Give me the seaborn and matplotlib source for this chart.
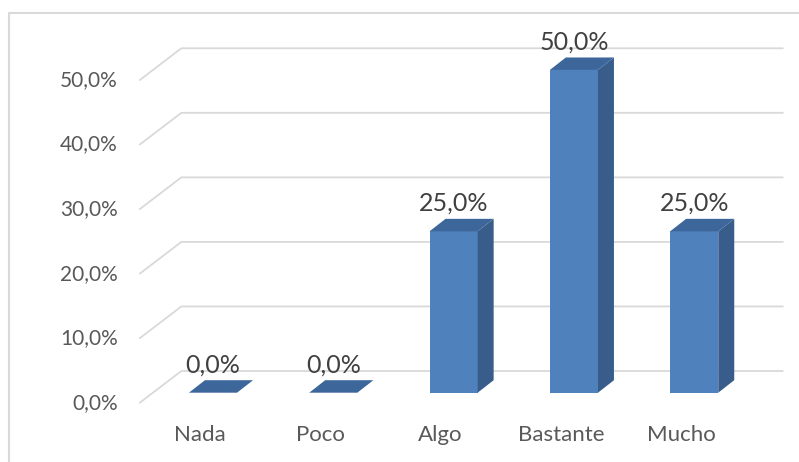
import numpy as np
import pandas as pd
import seaborn as sns
import matplotlib.pyplot as plt
from matplotlib.patches import Polygon
from matplotlib.lines import Line2D

# datos
categorias = ["Nada", "Poco", "Algo", "Bastante", "Mucho"]
porcentajes = [0.0, 0.0, 25.0, 50.0, 25.0]
ticks_y = [0, 10, 20, 30, 40, 50]
etiquetas_y = ["0,0%", "10,0%", "20,0%", "30,0%", "40,0%", "50,0%"]

FRONT = "#4F81BD"
SIDE = "#385D8A"
TOP = "#3D679B"
GRID = "#D9D9D9"
TXT = "#595959"

sns.set_theme(style="white")
plt.rcParams["font.family"] = ["Lato", "DejaVu Sans"]

fig = plt.figure(figsize=(7.99, 4.62), dpi=100)
ax = fig.add_axes([0.1913, 0.15, 0.7528, 0.7684])
df = pd.DataFrame({"cat": categorias, "pct": porcentajes})
sns.barplot(data=df, x="cat", y="pct", color=FRONT, width=0.4, saturation=1,
            linewidth=0, ax=ax, zorder=3)
ax.set_xlim(-0.5, 4.5)
ax.set_ylim(0, 55)
ax.axis("off")


def px(dx, dy):
    """pixel offset -> data offset"""
    x0, y0 = ax.transData.transform((0, 0))
    x1, y1 = ax.transData.inverted().transform((x0 + dx, y0 + dy))
    return x1, y1


bx, by = px(28.5, 21.7)      # back wall
fx, fy = px(-13, -10)        # front edge of the floor
dxb, dyb = px(16, 12.5)      # bar depth

# gridlines (diagonal + back wall)
for t, lab in zip(ticks_y, etiquetas_y):
    ax.plot([-0.5 + fx, -0.5 + bx, 4.5 + bx], [t + fy, t + by, t + by],
            color=GRID, lw=1.3, zorder=1, clip_on=False)
    ax.text(-0.5 + fx + px(-22, 0)[0], t + fy, lab, ha="right", va="center",
            fontsize=15, color=TXT)

# 3d faces
for patch, v in zip(ax.patches, porcentajes):
    x0, w, h = patch.get_x(), patch.get_width(), patch.get_height()
    side = [(x0 + w, 0), (x0 + w, h), (x0 + w + dxb, h + dyb), (x0 + w + dxb, dyb)]
    top = [(x0, h), (x0 + w, h), (x0 + w + dxb, h + dyb), (x0 + dxb, h + dyb)]
    ax.add_patch(Polygon(side, closed=True, color=SIDE, lw=0, zorder=3, clip_on=False))
    ax.add_patch(Polygon(top, closed=True, color=TOP, lw=0, zorder=3, clip_on=False))
    ax.text(x0 + w / 2, h + dyb + px(0, 4)[1], f"{v:.1f}%".replace(".", ","),
            ha="center", va="bottom", fontsize=18, color="#404040", zorder=5)

for i, c in enumerate(categorias):
    ax.text(i + px(-13, 0)[0], px(0, -42)[1], c, ha="center", va="center",
            fontsize=16, color=TXT)

# chart border
fig.add_artist(Line2D([9 / 799, 9 / 799], [0, 1 - 13 / 462], color=GRID, lw=1.5))
fig.add_artist(Line2D([9 / 799, 1], [1 - 13 / 462, 1 - 13 / 462], color=GRID, lw=1.5))

fig.savefig("out.png", dpi=100)
